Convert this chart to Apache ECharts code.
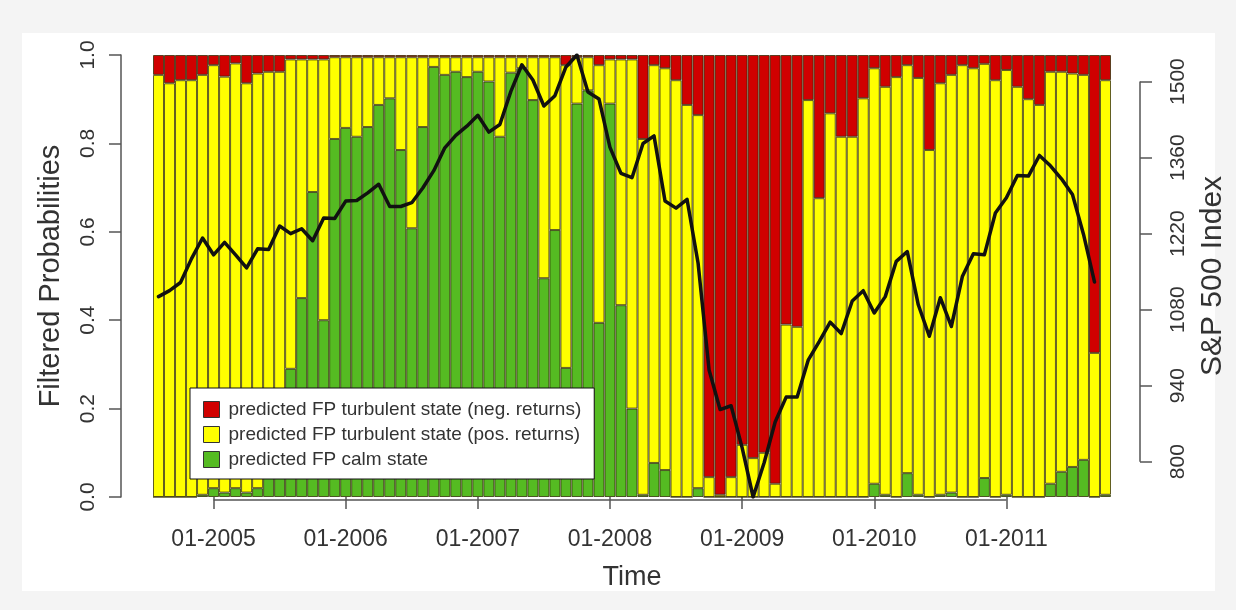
<!DOCTYPE html>
<html>
<head>
<meta charset="utf-8">
<script src="https://cdn.jsdelivr.net/npm/echarts@6/dist/echarts.min.js"></script>
<style>
  html, body { margin: 0; padding: 0; background: #f4f4f4; }
  #panel { position: absolute; left: 22px; top: 33px; width: 1193px; height: 558px; background: #ffffff; }
  #chart { position: absolute; left: 0; top: 0; width: 1236px; height: 610px; }
</style>
</head>
<body>
<div id="panel"></div>
<div id="chart"></div>
<script>
// Monthly observations, 08-2004 .. 10-2011
const startYear = 2004, startMonth = 8, monthCount = 87;
const months = [];
for (let i = 0; i < monthCount; i++) {
  const m = (startMonth - 1 + i) % 12 + 1;
  const y = startYear + Math.floor((startMonth - 1 + i) / 12);
  months.push((m < 10 ? '0' : '') + m + '-' + y);
}

// Labelled ticks on the time axis
const timeTicks = ['01-2005', '01-2006', '01-2007', '01-2008', '01-2009', '01-2010', '01-2011'];

// Filtered probabilities of the calm state
const calm = [
  0.000, 0.000, 0.000, 0.000, 0.005, 0.020, 0.010, 0.020, 0.010, 0.020, 0.080, 0.120,
  0.290, 0.450, 0.690, 0.400, 0.810, 0.835, 0.815, 0.837, 0.887, 0.902, 0.785, 0.608,
  0.837, 0.973, 0.955, 0.962, 0.950, 0.962, 0.940, 0.815, 0.960, 0.970, 0.898, 0.495,
  0.604, 0.292, 0.890, 0.920, 0.394, 0.890, 0.434, 0.200, 0.005, 0.077, 0.061, 0.000,
  0.000, 0.020, 0.000, 0.000, 0.000, 0.000, 0.000, 0.000, 0.000, 0.000, 0.000, 0.000,
  0.000, 0.000, 0.000, 0.000, 0.000, 0.030, 0.005, 0.000, 0.054, 0.005, 0.000, 0.005,
  0.010, 0.000, 0.000, 0.043, 0.000, 0.005, 0.000, 0.000, 0.000, 0.030, 0.057, 0.068,
  0.084, 0.000, 0.005
];

// Filtered probabilities of the turbulent state with positive returns
const turbPos = [
  0.955, 0.936, 0.943, 0.943, 0.950, 0.957, 0.941, 0.961, 0.926, 0.938, 0.882, 0.842,
  0.700, 0.540, 0.300, 0.590, 0.185, 0.160, 0.180, 0.158, 0.108, 0.093, 0.210, 0.387,
  0.158, 0.022, 0.040, 0.033, 0.045, 0.033, 0.055, 0.180, 0.035, 0.025, 0.097, 0.500,
  0.391, 0.685, 0.105, 0.075, 0.583, 0.100, 0.556, 0.790, 0.805, 0.900, 0.909, 0.943,
  0.887, 0.844, 0.045, 0.005, 0.045, 0.118, 0.088, 0.100, 0.030, 0.390, 0.385, 0.898,
  0.676, 0.868, 0.815, 0.815, 0.902, 0.940, 0.923, 0.950, 0.923, 0.943, 0.785, 0.931,
  0.945, 0.977, 0.970, 0.937, 0.943, 0.961, 0.928, 0.900, 0.887, 0.932, 0.905, 0.890,
  0.871, 0.326, 0.938
];

// Filtered probabilities of the turbulent state with negative returns
const turbNeg = [
  0.045, 0.064, 0.057, 0.057, 0.045, 0.023, 0.049, 0.019, 0.064, 0.042, 0.038, 0.038,
  0.010, 0.010, 0.010, 0.010, 0.005, 0.005, 0.005, 0.005, 0.005, 0.005, 0.005, 0.005,
  0.005, 0.005, 0.005, 0.005, 0.005, 0.005, 0.005, 0.005, 0.005, 0.005, 0.005, 0.005,
  0.005, 0.023, 0.005, 0.005, 0.023, 0.010, 0.010, 0.010, 0.190, 0.023, 0.030, 0.057,
  0.113, 0.136, 0.955, 0.995, 0.955, 0.882, 0.912, 0.900, 0.970, 0.610, 0.615, 0.102,
  0.324, 0.132, 0.185, 0.185, 0.098, 0.030, 0.072, 0.050, 0.023, 0.052, 0.215, 0.064,
  0.045, 0.023, 0.030, 0.020, 0.057, 0.034, 0.072, 0.100, 0.113, 0.038, 0.038, 0.042,
  0.045, 0.674, 0.057
];

// S&P 500 index, monthly close (no value for the last month)
const sp500 = [
  1104, 1115, 1130, 1174, 1212,
  1181, 1204, 1181, 1157, 1192, 1191, 1234, 1220, 1229, 1207, 1249, 1248,
  1280, 1281, 1295, 1311, 1270, 1270, 1277, 1304, 1336, 1378, 1401, 1418,
  1438, 1407, 1421, 1482, 1531, 1503, 1455, 1474, 1527, 1549, 1481, 1468,
  1379, 1331, 1323, 1386, 1400, 1280, 1267, 1283, 1166, 969, 896, 903,
  826, 735, 798, 873, 919, 919, 987, 1021, 1057, 1036, 1096, 1115,
  1074, 1104, 1169, 1187, 1089, 1031, 1102, 1049, 1141, 1183, 1181, 1258,
  1286, 1327, 1326, 1364, 1345, 1321, 1292, 1219, 1131, null
];

// Tick values on the index axis
const spTicks = [800, 940, 1080, 1220, 1360, 1500];

const NAME_NEG = 'predicted FP turbulent state (neg. returns)';
const NAME_POS = 'predicted FP turbulent state (pos. returns)';
const NAME_CALM = 'predicted FP calm state';

const AXIS_COLOR = '#555555';
const TEXT_COLOR = '#333333';
const FONT = 'Liberation Sans, Arial, sans-serif';
const BORDER = 'rgba(45, 40, 0, 0.75)';

const chart = echarts.init(document.getElementById('chart'), null, { renderer: 'canvas' });

function barSeries(name, data, color) {
  return {
    name: name,
    type: 'bar',
    stack: 'prob',
    data: data,
    barCategoryGap: '0%',
    itemStyle: { color: color, borderColor: BORDER, borderWidth: 1 },
    emphasis: { disabled: true },
    animation: false
  };
}

chart.setOption({
  animation: false,
  textStyle: { fontFamily: FONT },
  grid: { left: 153, right: 124, top: 55, bottom: 113, containLabel: false },
  legend: {
    data: [NAME_NEG, NAME_POS, NAME_CALM],
    orient: 'vertical',
    left: 190,
    top: 388,
    padding: [12, 13, 10, 13],
    backgroundColor: '#ffffff',
    borderColor: '#111111',
    borderWidth: 1,
    borderRadius: 0,
    itemWidth: 24,
    itemHeight: 16,
    itemGap: 6,
    icon: 'path://M0,0L10,0L10,10L0,10Z',
    symbolKeepAspect: true,
    selectedMode: false,
    itemStyle: { borderColor: '#333333', borderWidth: 1 },
    textStyle: { fontSize: 19, color: TEXT_COLOR, fontFamily: FONT }
  },
  xAxis: {
    type: 'category',
    data: months,
    boundaryGap: true,
    offset: 3,
    axisLine: { show: false },
    axisTick: {
      show: true,
      alignWithLabel: true,
      length: 12,
      interval: (i, v) => timeTicks.indexOf(v) >= 0,
      lineStyle: { color: AXIS_COLOR, width: 1.5 }
    },
    axisLabel: {
      interval: (i, v) => timeTicks.indexOf(v) >= 0,
      fontSize: 23,
      color: TEXT_COLOR,
      margin: 28
    },
    splitLine: { show: false },
    name: 'Time',
    nameLocation: 'middle',
    nameGap: 64,
    nameTextStyle: { fontSize: 27, color: TEXT_COLOR }
  },
  yAxis: [
    {
      type: 'value',
      position: 'left',
      min: 0,
      max: 1,
      interval: 0.2,
      offset: 32,
      axisLine: { show: true, lineStyle: { color: AXIS_COLOR, width: 1.5 } },
      axisTick: { show: true, length: 12, lineStyle: { color: AXIS_COLOR, width: 1.5 } },
      axisLabel: {
        rotate: 90,
        fontSize: 21,
        color: TEXT_COLOR,
        margin: 22,
        formatter: v => v.toFixed(1)
      },
      splitLine: { show: false },
      name: 'Filtered Probabilities',
      nameLocation: 'middle',
      nameRotate: 90,
      nameGap: 56,
      nameTextStyle: { fontSize: 29, color: TEXT_COLOR }
    },
    {
      type: 'value',
      position: 'right',
      min: 'dataMin',
      max: 'dataMax',
      offset: 29,
      axisLine: { show: false },
      axisTick: { show: true, length: 12, customValues: spTicks, lineStyle: { color: AXIS_COLOR, width: 1.5 } },
      axisLabel: {
        rotate: 90,
        fontSize: 21,
        color: TEXT_COLOR,
        margin: 28,
        customValues: spTicks,
        formatter: v => String(v)
      },
      splitLine: { show: false },
      name: 'S&P 500 Index',
      nameLocation: 'middle',
      nameRotate: 90,
      nameGap: 58,
      nameTextStyle: { fontSize: 30, color: TEXT_COLOR }
    }
  ],
  series: [
    barSeries(NAME_CALM, calm, '#55bb22'),
    barSeries(NAME_POS, turbPos, '#ffff00'),
    barSeries(NAME_NEG, turbNeg, '#d00000'),
    {
      name: 'S&P 500',
      type: 'line',
      yAxisIndex: 1,
      data: sp500,
      showSymbol: false,
      symbol: 'none',
      connectNulls: false,
      lineStyle: { color: '#111111', width: 3.5, join: 'round', cap: 'round' },
      z: 5,
      emphasis: { disabled: true },
      animation: false
    }
  ]
});

// Axis lines that span only the labelled tick range (time axis and index axis)
function drawAxisLines() {
  const gridModel = chart.getModel().getComponent('grid', 0);
  const rect = gridModel.coordinateSystem.getRect();
  const xStart = chart.convertToPixel({ xAxisIndex: 0 }, timeTicks[0]);
  const xEnd = chart.convertToPixel({ xAxisIndex: 0 }, timeTicks[timeTicks.length - 1]);
  const yBase = rect.y + rect.height + 3;
  const xRight = rect.x + rect.width + 29;
  const yLow = chart.convertToPixel({ yAxisIndex: 1 }, spTicks[0]);
  const yHigh = chart.convertToPixel({ yAxisIndex: 1 }, spTicks[spTicks.length - 1]);
  chart.setOption({
    graphic: [
      {
        type: 'line', silent: true, z: 10,
        shape: { x1: xStart, y1: yBase, x2: xEnd, y2: yBase },
        style: { stroke: AXIS_COLOR, lineWidth: 1.5 }
      },
      {
        type: 'line', silent: true, z: 10,
        shape: { x1: xRight, y1: yLow, x2: xRight, y2: yHigh },
        style: { stroke: AXIS_COLOR, lineWidth: 1.5 }
      }
    ]
  });
}
drawAxisLines();
</script>
</body>
</html>
